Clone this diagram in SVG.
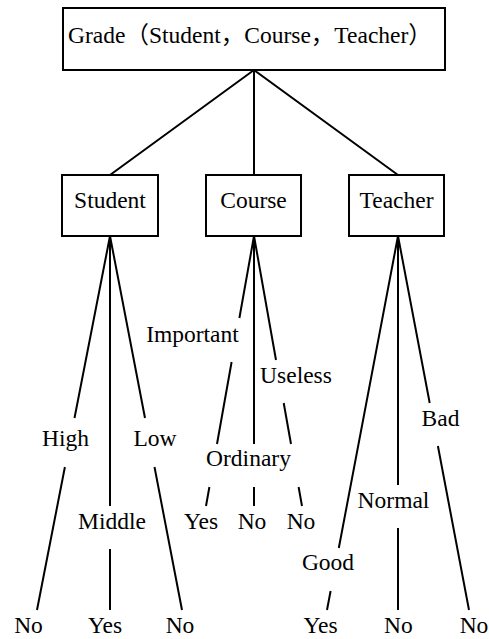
<svg xmlns="http://www.w3.org/2000/svg" width="489" height="639" viewBox="0 0 489 639">
<style>
.box{fill:#fff;stroke:#000;stroke-width:2}
.ln{stroke:#000;stroke-width:2;fill:none;stroke-linecap:butt}
.m{text-anchor:middle}
.t{font-family:'Liberation Serif',serif;font-size:23.5px}
.c{font-family:'Noto Sans CJK SC',sans-serif}
</style>
<rect width="489" height="639" fill="#fff"/>
<g id="connectors">
<path class="ln" d="M254,70 L110,175 M254,70 L254,175 M254,70 L398,175"/>
<path class="ln" d="M110,236 L74.5,418 M64.9,467 L37,610 M110,236 L110,506 M110,549 L110,610 M110,236 L145,418 M154.5,467 L182,610"/>
<path class="ln" d="M254,236 L239.4,318 M231.6,362 L217,444 M209.4,487 L206,506 M254,236 L254,444 M254,487 L254,506 M254,236 L276,360 M283.7,403 L291,444 M298.6,487 L302,506"/>
<path class="ln" d="M398,236 L338.8,548 M330.6,591 L327,610 M398,236 L398,485 M398,528 L398,610 M398,236 L429.7,403 M437.9,446 L469,610"/>
</g>
<g id="grade"><rect class="box" x="63" y="8" width="382" height="62"/><text class="t" x="68" y="43">Grade<tspan class="c">（</tspan>Student<tspan class="c">，</tspan>Course<tspan class="c">，</tspan>Teacher<tspan class="c">）</tspan></text></g>
<g id="student"><rect class="box" x="62" y="175" width="96" height="61"/><text class="t m" x="110" y="208">Student</text></g>
<g id="course"><rect class="box" x="206" y="175" width="95" height="61"/><text class="t m" x="253.5" y="208">Course</text></g>
<g id="teacher"><rect class="box" x="349" y="175" width="95" height="61"/><text class="t m" x="396.5" y="208">Teacher</text></g>
<g id="labels">
<text class="t m" x="65.5" y="446">High</text>
<text class="t m" x="155" y="446">Low</text>
<text class="t m" x="112" y="529">Middle</text>
<text class="t m" x="192.5" y="342">Important</text>
<text class="t m" x="296" y="383">Useless</text>
<text class="t m" x="248.5" y="466">Ordinary</text>
<text class="t m" x="440.5" y="426">Bad</text>
<text class="t m" x="393.5" y="508">Normal</text>
<text class="t m" x="328" y="570">Good</text>
</g>
<g id="leaves">
<text class="t m" x="28.5" y="633">No</text>
<text class="t m" x="105" y="633">Yes</text>
<text class="t m" x="180" y="633">No</text>
<text class="t m" x="201" y="529">Yes</text>
<text class="t m" x="252" y="529">No</text>
<text class="t m" x="301" y="529">No</text>
<text class="t m" x="320.5" y="633">Yes</text>
<text class="t m" x="398.3" y="633">No</text>
<text class="t m" x="474" y="633">No</text>
</g>
</svg>
